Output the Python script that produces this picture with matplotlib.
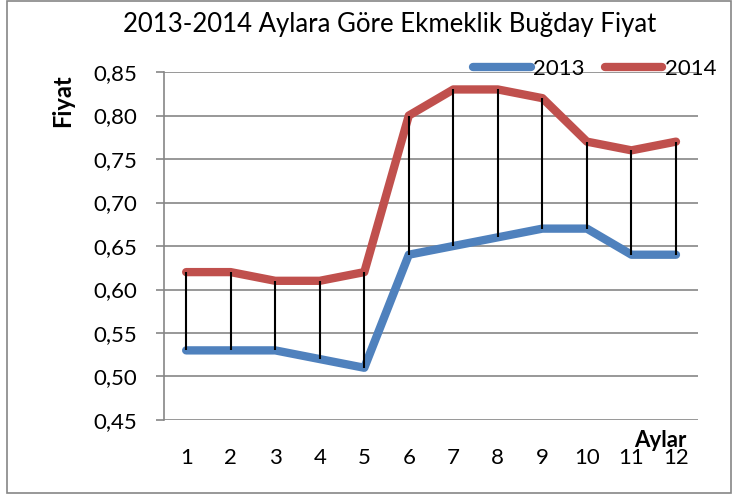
import matplotlib.pyplot as plt
from matplotlib.patches import Rectangle
from matplotlib.ticker import FuncFormatter

months = [1, 2, 3, 4, 5, 6, 7, 8, 9, 10, 11, 12]
price_2013 = [0.53, 0.53, 0.53, 0.52, 0.51, 0.64, 0.65, 0.66, 0.67, 0.67, 0.64, 0.64]
price_2014 = [0.62, 0.62, 0.61, 0.61, 0.62, 0.80, 0.83, 0.83, 0.82, 0.77, 0.76, 0.77]
y_ticks = [0.45, 0.50, 0.55, 0.60, 0.65, 0.70, 0.75, 0.80, 0.85]

plt.rcParams['font.family'] = ['Lato', 'DejaVu Sans']

fig = plt.figure(figsize=(7.35, 4.97), dpi=100)
fig.patches.append(Rectangle((0.01, 0.008), 0.985, 0.99, transform=fig.transFigure,
                             fill=False, edgecolor='#868686', linewidth=1.2))
ax = fig.add_axes([0.223, 0.155, 0.727, 0.70])

# high-low lines
ax.vlines(months, price_2013, price_2014, color='black', linewidth=1.5, zorder=3)
ax.plot(months, price_2013, color='#4f81bd', linewidth=6, solid_capstyle='round',
        solid_joinstyle='round', label='2013', zorder=2)
ax.plot(months, price_2014, color='#c0504d', linewidth=6, solid_capstyle='round',
        solid_joinstyle='round', label='2014', zorder=2)

ax.set_xlim(0.5, 12.5)
ax.set_ylim(0.45, 0.85)
ax.set_xticks(months)
ax.set_yticks(y_ticks)
ax.yaxis.set_major_formatter(FuncFormatter(lambda v, p: f'{v:.2f}'.replace('.', ',')))
ax.grid(axis='y', color='#868686', linewidth=1.2)
ax.set_axisbelow(True)
for s in ['top', 'right', 'bottom']:
    ax.spines[s].set_visible(False)
ax.spines['left'].set_color('#868686')
ax.spines['left'].set_linewidth(1.2)
ax.tick_params(axis='y', length=6, color='#868686', width=1.2, labelsize=16, pad=13)
ax.tick_params(axis='x', length=0, labelsize=16, pad=20)

fig.text(0.53, 0.95, '2013-2014 Aylara Göre Ekmeklik Buğday Fiyat', ha='center',
         va='center', fontsize=18.5)
fig.text(0.085, 0.797, 'Fiyat', rotation=90, ha='center', va='center',
         fontsize=17, fontweight='bold')
fig.text(0.898, 0.113, 'Aylar', ha='center', va='center', fontsize=16, fontweight='bold')

ax.legend(loc='lower right', bbox_to_anchor=(1.05, 0.955), ncol=2, frameon=False,
          fontsize=16, handlelength=2.6, handletextpad=0.1, columnspacing=0.9,
          borderaxespad=0)

fig.savefig('out.png', dpi=100)
